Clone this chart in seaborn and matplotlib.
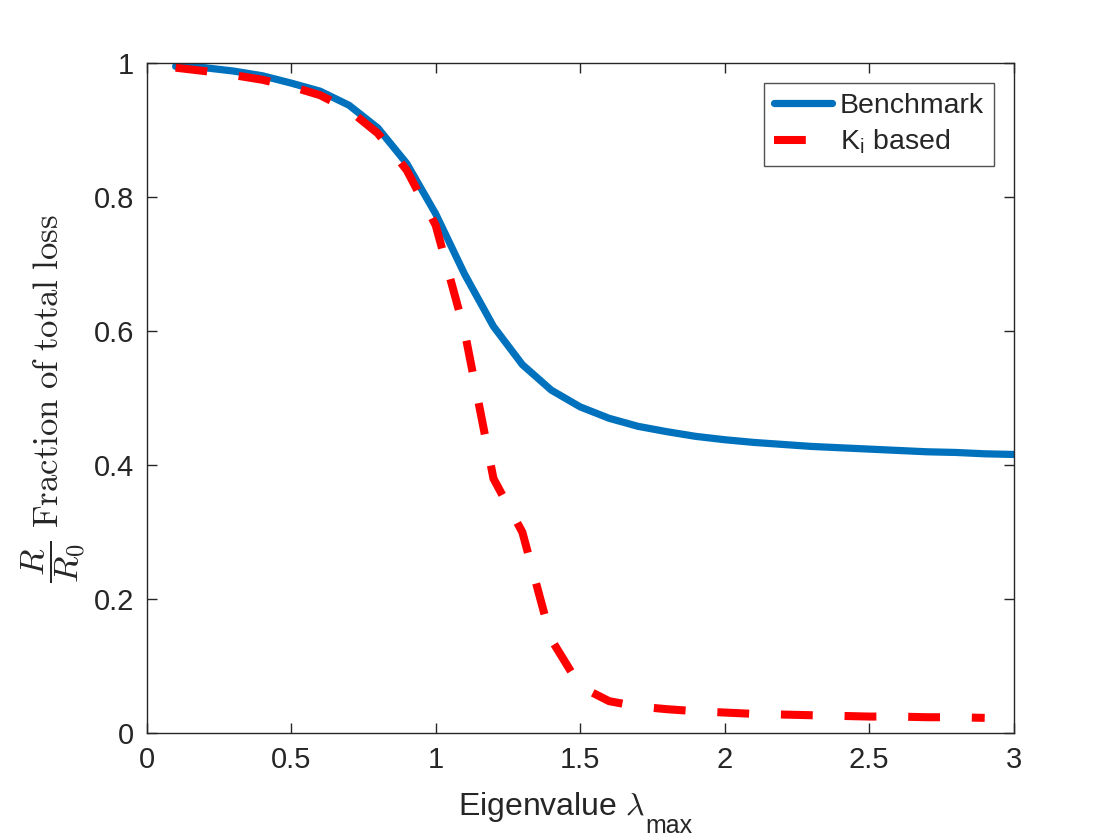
import matplotlib
matplotlib.use("Agg")
import matplotlib.pyplot as plt
import seaborn as sns
import pandas as pd
import numpy as np

# ---- data ----
eig_bench = [0.1, 0.2, 0.3, 0.4, 0.5, 0.6, 0.7, 0.8, 0.9, 1.0,
             1.1, 1.2, 1.3, 1.4, 1.5, 1.6, 1.7, 1.8, 1.9, 2.0,
             2.1, 2.2, 2.3, 2.4, 2.5, 2.6, 2.7, 2.8, 2.9, 3.0]
benchmark = [0.995, 0.993, 0.988, 0.981, 0.970, 0.958, 0.937, 0.903, 0.850, 0.775,
             0.685, 0.607, 0.550, 0.512, 0.487, 0.470, 0.458, 0.450, 0.443, 0.438,
             0.434, 0.431, 0.428, 0.426, 0.424, 0.422, 0.420, 0.419, 0.417, 0.416]
eig_ki = [0.1, 0.2, 0.3, 0.4, 0.5, 0.6, 0.7, 0.8, 0.9, 1.0,
          1.1, 1.2, 1.3, 1.4, 1.5, 1.6, 1.7, 1.8, 1.9, 2.0,
          2.1, 2.2, 2.3, 2.4, 2.5, 2.6, 2.7, 2.8, 2.9]
ki_based = [0.993, 0.988, 0.982, 0.975, 0.965, 0.952, 0.930, 0.895, 0.840, 0.758,
            0.600, 0.380, 0.300, 0.140, 0.070, 0.048, 0.040, 0.036, 0.033, 0.031,
            0.029, 0.028, 0.027, 0.026, 0.025, 0.025, 0.024, 0.024, 0.023]
xticks = [0, 0.5, 1, 1.5, 2, 2.5, 3]
xtick_labels = ["0", "0.5", "1", "1.5", "2", "2.5", "3"]
yticks = [0, 0.2, 0.4, 0.6, 0.8, 1]
ytick_labels = ["0", "0.2", "0.4", "0.6", "0.8", "1"]

df_b = pd.DataFrame({"x": eig_bench, "y": benchmark})
df_k = pd.DataFrame({"x": eig_ki, "y": ki_based})

sns.set_style("ticks")
plt.rcParams["font.family"] = ["Liberation Sans", "DejaVu Sans"]

fig = plt.figure(figsize=(11.2, 8.4), dpi=100)
ax = fig.add_axes([0.131, 0.127, 0.774, 0.798])

sns.lineplot(data=df_b, x="x", y="y", ax=ax, color="#0072BD", linewidth=5.2,
             label="Benchmark")
sns.lineplot(data=df_k, x="x", y="y", ax=ax, color="#FF0000", linewidth=5.8,
             linestyle=(0, (3.95, 3.95)), label=r"K$_\mathregular{i}$ based")

ax.set_xlim(0, 3)
ax.set_ylim(0, 1)
ax.set_xticks(xticks)
ax.set_xticklabels(xtick_labels)
ax.set_yticks(yticks)
ax.set_yticklabels(ytick_labels)

for s in ax.spines.values():
    s.set_visible(True)
    s.set_color("#262626")
    s.set_linewidth(1.0)
ax.tick_params(direction="in", length=7, width=1.0, color="#262626",
               labelsize=21, labelcolor="#262626", pad=9,
               top=True, right=True)

xl = ax.set_xlabel(r"Eigenvalue $\lambda$", fontsize=23,
                   color="#262626", math_fontfamily="cm", labelpad=11.5)
xl.set_horizontalalignment("left")
xl.set_x(0.359)
ax.annotate("max", xy=(1.0, 0.0), xycoords=xl, xytext=(0.3, -6.5),
            textcoords="offset points", ha="left", va="baseline",
            fontsize=18, color="#262626", annotation_clip=False)
ax.set_ylabel(r"$\dfrac{R}{R_0}\ \mathrm{Fraction\ of\ total\ loss}$", fontsize=25,
              color="#262626", math_fontfamily="cm", labelpad=4)

leg = ax.legend(loc="upper right", bbox_to_anchor=(0.977, 0.970), fontsize=20.5,
                frameon=True, fancybox=False, edgecolor="#262626",
                handlelength=2.05, borderpad=0.35, labelspacing=0.3,
                handletextpad=0.25, borderaxespad=0.0)
leg.get_frame().set_linewidth(1.0)

fig.savefig("out.png", dpi=100, facecolor="white")
